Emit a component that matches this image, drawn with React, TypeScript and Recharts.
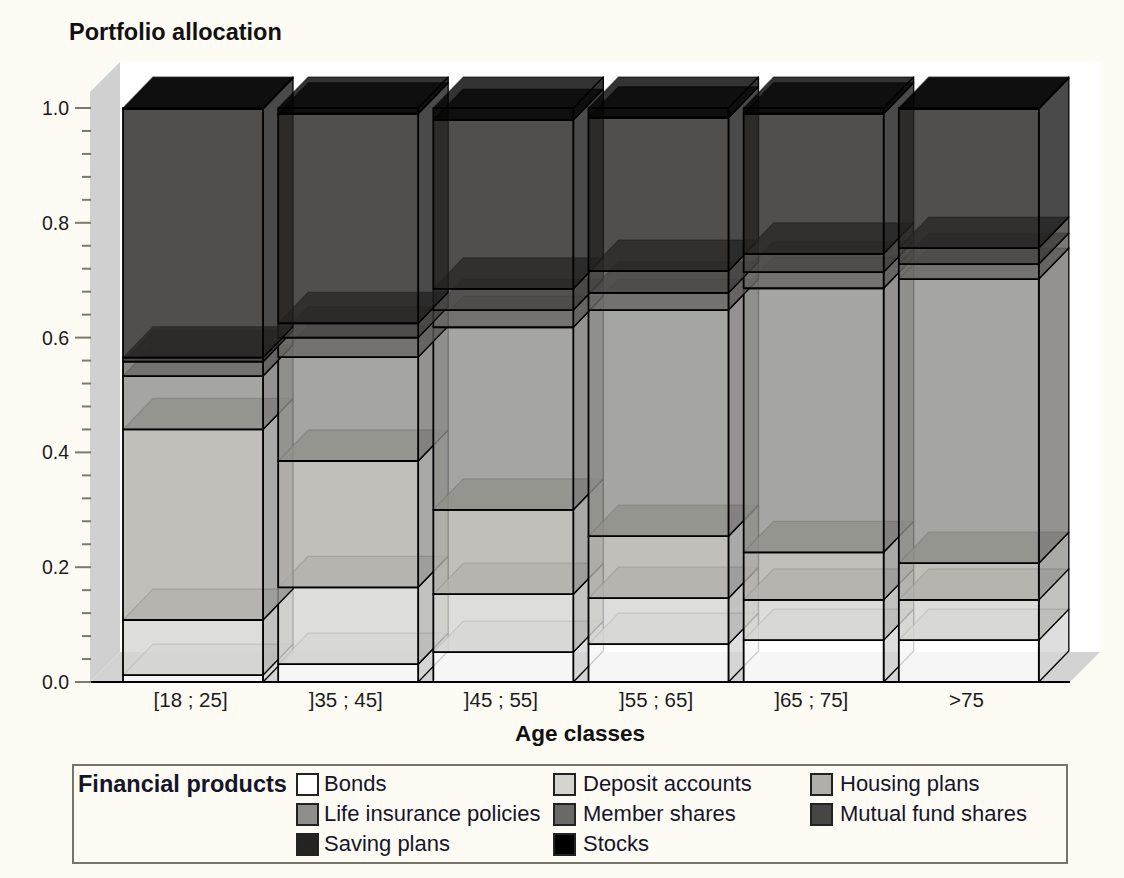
import { Bar, BarChart, Label, XAxis, YAxis } from "recharts";

const ageClasses = ["[18 ; 25]", "]35 ; 45]", "]45 ; 55]", "]55 ; 65]", "]65 ; 75]", ">75"];
const products = [
  "Bonds",
  "Deposit accounts",
  "Housing plans",
  "Life insurance policies",
  "Member shares",
  "Mutual fund shares",
  "Saving plans",
  "Stocks",
];
const productColors = ["#ffffff", "#d5d5d0", "#b0afa9", "#8f8e8a", "#6a6965", "#474644", "#242322", "#000000"];

const bonds = [0.012, 0.031, 0.052, 0.066, 0.073, 0.073];
const deposits = [0.096, 0.134, 0.101, 0.08, 0.07, 0.07];
const housing = [0.332, 0.22, 0.147, 0.108, 0.083, 0.064];
const lifeInsurance = [0.093, 0.181, 0.318, 0.394, 0.46, 0.495];
const memberShares = [0.025, 0.034, 0.03, 0.03, 0.028, 0.026];
const mutualFunds = [0.007, 0.025, 0.037, 0.038, 0.032, 0.028];
const savingPlans = [0.433, 0.365, 0.294, 0.267, 0.244, 0.242];
const stocks = [0.002, 0.01, 0.021, 0.017, 0.01, 0.002];

const seriesValues = [bonds, deposits, housing, lifeInsurance, memberShares, mutualFunds, savingPlans, stocks];
const yTicks = [
  0, 0.04, 0.08, 0.12, 0.16, 0.2, 0.24, 0.28, 0.32, 0.36, 0.4, 0.44, 0.48, 0.52, 0.56, 0.6, 0.64, 0.68, 0.72, 0.76,
  0.8, 0.84, 0.88, 0.92, 0.96, 1,
];

const chartData = ageClasses.map((age, i) => {
  const row: Record<string, string | number> = { age };
  products.forEach((p, s) => {
    row[p] = seriesValues[s][i];
  });
  return row;
});

const font = '"Liberation Sans", Arial, sans-serif';
const pageBg = "#fefbf4";
const depthX = 30;
const depthY = 31;

function shade(hex: string, k: number) {
  const n = parseInt(hex.slice(1), 16);
  const c = [(n >> 16) & 255, (n >> 8) & 255, n & 255].map((v) => Math.round(v * k));
  return `rgb(${c[0]},${c[1]},${c[2]})`;
}

// only the three visible faces of each box, the rest shows through
function Box3D(props: any) {
  const { x, y, width, height, fill } = props;
  const x2 = x + width;
  const y2 = y + height;
  const side = `${x2},${y} ${x2 + depthX},${y - depthY} ${x2 + depthX},${y2 - depthY} ${x2},${y2}`;
  const top = `${x},${y} ${x + depthX},${y - depthY} ${x2 + depthX},${y - depthY} ${x2},${y}`;
  return (
    <g stroke="#000" strokeLinejoin="round">
      <polygon points={top} fill={shade(fill, 0.88)} fillOpacity={0.8} strokeWidth={1.3} strokeOpacity={0.45} />
      <polygon points={side} fill={shade(fill, 0.84)} fillOpacity={0.8} strokeWidth={1.3} />
      <rect x={x} y={y} width={width} height={height} fill={fill} fillOpacity={0.8} strokeWidth={1.8} />
    </g>
  );
}

function XTick(props: any) {
  const { x, y, payload } = props;
  return (
    <text x={x - 2} y={y + 17} textAnchor="middle" fontSize={20.5} fontFamily={font} fill="#1c1c1c">
      {payload.value}
    </text>
  );
}

function YTick(props: any) {
  const { x, y, payload } = props;
  const major = Math.round(payload.value * 100) % 20 === 0;
  return (
    <g>
      <line x1={major ? x - 15 : x - 8} x2={x + 1} y1={y} y2={y} stroke="#7d796c" strokeWidth={2} />
      {major && (
        <text x={x - 21} y={y + 7} textAnchor="end" fontSize={19.5} fontFamily={font} fill="#1c1c1c">
          {payload.value.toFixed(1)}
        </text>
      )}
    </g>
  );
}

function Walls() {
  return (
    <svg width={1124} height={878} style={{ position: "absolute", left: 0, top: 0 }}>
      <rect x={120} y={62} width={980} height={590} fill="#ffffff" />
      <polygon points="90,92 120,62 120,652 90,682" fill="#d0d0d0" />
      <polygon points="90,682 120,652 1100,652 1070,682" fill="#d3d3d3" />
      <text x={69} y={40} fontSize={23.5} fontWeight="bold" fontFamily={font} fill="#111">
        Portfolio allocation
      </text>
    </svg>
  );
}

const legendSwatchX = [296, 553, 810];
const legendTextX = [324, 583, 840];
const legendRowY = [773, 803, 833];
const legendLeft = 72;
const legendTop = 764;

function ProductLegend() {
  return (
    <div
      style={{
        position: "absolute",
        left: legendLeft,
        top: legendTop,
        width: 992,
        height: 96,
        border: "2px solid #77756a",
        fontFamily: font,
        color: "#15152a",
      }}
    >
      <div style={{ position: "absolute", left: 4, top: 5, fontWeight: "bold", fontSize: 23.5, whiteSpace: "nowrap" }}>
        Financial products
      </div>
      {products.map((p, i) => {
        const col = i % 3;
        const rowY = legendRowY[Math.floor(i / 3)] - legendTop - 2;
        return (
          <div key={p}>
            <div
              style={{
                position: "absolute",
                left: legendSwatchX[col] - legendLeft - 2,
                top: rowY,
                width: 19,
                height: 19,
                background: productColors[i],
                border: "2px solid #222",
              }}
            />
            <div
              style={{
                position: "absolute",
                left: legendTextX[col] - legendLeft - 2,
                top: rowY - 2,
                fontSize: 22,
                whiteSpace: "nowrap",
              }}
            >
              {p}
            </div>
          </div>
        );
      })}
    </div>
  );
}

export default function App() {
  return (
    <div style={{ position: "absolute", left: 0, top: 0, width: 1124, height: 878, background: pageBg, overflow: "hidden" }}>
      <Walls />
      <div style={{ position: "absolute", left: 0, top: 0 }}>
        <BarChart
          width={1124}
          height={878}
          data={chartData}
          margin={{ top: 108, right: 54, bottom: 166, left: 50 }}
        >
          <XAxis
            dataKey="age"
            padding={{ left: 25, right: 24 }}
            axisLine={{ stroke: "#000", strokeWidth: 2 }}
            tickLine={false}
            height={30}
            tick={<XTick />}
          >
            <Label
              value="Age classes"
              position="bottom"
              offset={13}
              style={{ fontSize: 22.5, fontWeight: "bold", fontFamily: font, fill: "#111" }}
            />
          </XAxis>
          <YAxis
            width={40}
            domain={[0, 1]}
            ticks={yTicks}
            interval={0}
            axisLine={false}
            tickLine={false}
            tickSize={0}
            tickMargin={0}
            tick={<YTick />}
          />
          {products.map((p, i) => (
            <Bar
              key={p}
              dataKey={p}
              stackId="a"
              barSize={140}
              fill={productColors[i]}
              shape={<Box3D />}
              isAnimationActive={false}
            />
          ))}
        </BarChart>
      </div>
      <ProductLegend />
    </div>
  );
}
